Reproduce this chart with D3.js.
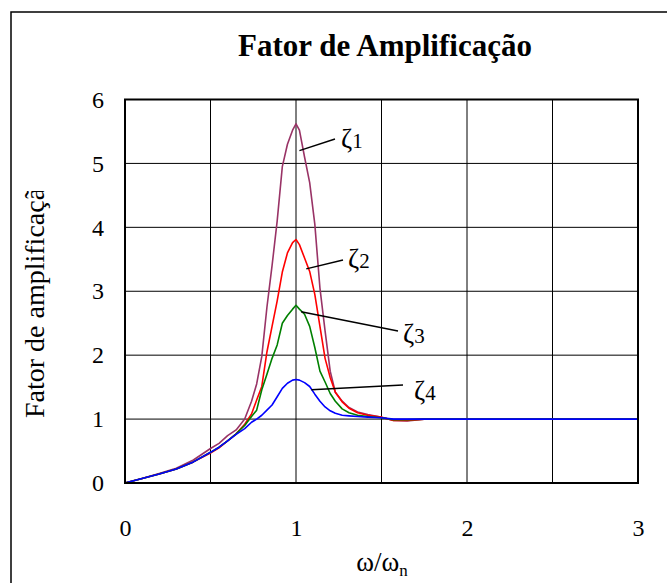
<!DOCTYPE html>
<html>
<head>
<meta charset="utf-8">
<script src="https://cdn.jsdelivr.net/npm/d3@7"></script>
<style>
  body { margin: 0; background: #fff; }
  svg { font-family: "Liberation Serif", "Times New Roman", serif; }
</style>
</head>
<body>
<svg id="chart" width="667" height="583"></svg>
<script>
// frequency ratio w/wn (shared by all series)
const ratio = [0, 0.1, 0.2, 0.3, 0.4, 0.5, 0.55, 0.6, 0.65, 0.7, 0.74, 0.77, 0.8, 0.83, 0.86, 0.89, 0.92, 0.95, 0.98, 1.0,
               1.02, 1.05, 1.08, 1.11, 1.14, 1.17, 1.2, 1.23, 1.27, 1.31, 1.36, 1.42, 1.5, 1.57, 1.65, 1.75, 2.0, 2.5, 3.0];

const zeta1 = [0, 0.07, 0.15, 0.23, 0.36, 0.54, 0.62, 0.74, 0.83, 1.0, 1.28, 1.55, 1.98, 2.75, 3.4, 4.1, 4.95, 5.3, 5.52, 5.62,
               5.52, 5.1, 4.7, 4.05, 3.05, 2.38, 1.75, 1.42, 1.28, 1.18, 1.11, 1.07, 1.03, 0.98, 0.97, 1.0, 1.0, 1.0, 1.0];
const zeta2 = [0, 0.07, 0.14, 0.22, 0.33, 0.47, 0.55, 0.66, 0.77, 0.92, 1.08, 1.3, 1.51, 2.05, 2.45, 2.85, 3.3, 3.6, 3.76, 3.81,
               3.73, 3.52, 3.31, 2.95, 2.45, 1.95, 1.65, 1.42, 1.27, 1.17, 1.1, 1.06, 1.03, 0.98, 0.98, 1.0, 1.0, 1.0, 1.0];
const zeta3 = [0, 0.07, 0.14, 0.22, 0.33, 0.48, 0.56, 0.66, 0.77, 0.9, 1.04, 1.14, 1.46, 1.7, 1.95, 2.16, 2.5, 2.62, 2.72, 2.78,
               2.72, 2.64, 2.45, 2.12, 1.75, 1.58, 1.4, 1.28, 1.16, 1.1, 1.06, 1.04, 1.02, 0.99, 0.99, 1.0, 1.0, 1.0, 1.0];
const zeta4 = [0, 0.07, 0.14, 0.22, 0.33, 0.48, 0.56, 0.66, 0.76, 0.85, 0.95, 1.0, 1.06, 1.14, 1.22, 1.35, 1.48, 1.56, 1.61, 1.62,
               1.61, 1.57, 1.51, 1.39, 1.28, 1.19, 1.13, 1.09, 1.06, 1.05, 1.04, 1.03, 1.02, 1.0, 1.0, 1.0, 1.0, 1.0, 1.0];

const xTicks = [0, 1, 2, 3];
const xGrid = [0.5, 1, 1.5, 2, 2.5];
const yTicks = [0, 1, 2, 3, 4, 5, 6];

const series = [
  { name: "1", values: zeta1, color: "#993366" },
  { name: "2", values: zeta2, color: "#ff0000" },
  { name: "3", values: zeta3, color: "#008000" },
  { name: "4", values: zeta4, color: "#0000ff" }
];

// label anchor: point on curve, end of leader line, text position
const labels = [
  { name: "1", from: [1.02, 5.2], to: [335, 139], text: [341, 148] },
  { name: "2", from: [1.06, 3.35], to: [343, 260], text: [348, 268] },
  { name: "3", from: [1.03, 2.68], to: [398, 331], text: [403, 343] },
  { name: "4", from: [1.09, 1.46], to: [403, 385], text: [414, 400] }
];

const svg = d3.select("#chart");
const margin = { left: 125, right: 29, top: 99.5, bottom: 100 };
const width = 667, height = 583;

// outer frame
svg.append("rect")
   .attr("x", 11).attr("y", 12)
   .attr("width", 700).attr("height", 600)
   .attr("fill", "none").attr("stroke", "#000").attr("stroke-width", 1.5);

const xScale = d3.scaleLinear().domain([0, 3]).range([margin.left, width - margin.right]);
const yScale = d3.scaleLinear().domain([0, 6]).range([height - margin.bottom, margin.top]);

// grid
svg.append("g")
   .selectAll("line")
   .data(xGrid)
   .enter().append("line")
      .attr("x1", d => xScale(d)).attr("x2", d => xScale(d))
      .attr("y1", yScale(0)).attr("y2", yScale(6))
      .attr("stroke", "#000").attr("stroke-width", 1);

svg.append("g")
   .selectAll("line")
   .data(yTicks.slice(1, -1))
   .enter().append("line")
      .attr("x1", xScale(0)).attr("x2", xScale(3))
      .attr("y1", d => yScale(d)).attr("y2", d => yScale(d))
      .attr("stroke", "#000").attr("stroke-width", 1);

// curves
const line = d3.line()
               .x((d, i) => xScale(ratio[i]))
               .y(d => yScale(d));

svg.append("g")
   .selectAll("path")
   .data(series)
   .enter().append("path")
      .attr("d", d => line(d.values))
      .attr("fill", "none")
      .attr("stroke", d => d.color)
      .attr("stroke-width", 1.6)
      .attr("stroke-linejoin", "round");

// plot border
svg.append("rect")
   .attr("x", xScale(0)).attr("y", yScale(6))
   .attr("width", xScale(3) - xScale(0))
   .attr("height", yScale(0) - yScale(6))
   .attr("fill", "none").attr("stroke", "#000").attr("stroke-width", 2);

// axes
const xAxis = d3.axisBottom(xScale).tickValues(xTicks).tickSize(0).tickPadding(36).tickFormat(d3.format("d"));
const yAxis = d3.axisLeft(yScale).tickValues(yTicks).tickSize(0).tickPadding(27).tickFormat(d3.format("d"));

const gx = svg.append("g")
              .attr("transform", `translate(0, ${yScale(0)})`)
              .call(xAxis);
gx.select(".domain").remove();
gx.selectAll("text").attr("font-size", 24).attr("font-family", "Liberation Serif").attr("fill", "#000");

const gy = svg.append("g")
              .attr("transform", `translate(${xScale(0)}, 0)`)
              .call(yAxis);
gy.select(".domain").remove();
gy.selectAll("text").attr("font-size", 24).attr("font-family", "Liberation Serif")
  .attr("text-anchor", "middle").attr("x", -27).attr("fill", "#000");

// title
svg.append("text")
   .attr("x", 385).attr("y", 56)
   .attr("text-anchor", "middle")
   .attr("font-size", 31).attr("font-weight", "bold")
   .text("Fator de Amplificação");

// x axis title
const xt = svg.append("text")
              .attr("x", 382).attr("y", 571)
              .attr("text-anchor", "middle")
              .attr("font-size", 27);
xt.append("tspan").text("ω/ω");
xt.append("tspan").attr("font-size", 17).attr("dy", 5).text("n");

// y axis title (clipped like the original)
svg.append("clipPath").attr("id", "yclip")
   .append("rect").attr("x", 0).attr("y", 191).attr("width", 80).attr("height", 400);

svg.append("g")
   .attr("clip-path", "url(#yclip)")
   .append("text")
      .attr("transform", "translate(44, 418) rotate(-90)")
      .attr("text-anchor", "start")
      .attr("font-size", 28)
      .text("Fator de amplificação");

// zeta labels with leader lines
const lg = svg.append("g");
lg.selectAll("line")
  .data(labels)
  .enter().append("line")
     .attr("x1", d => xScale(d.from[0])).attr("y1", d => yScale(d.from[1]))
     .attr("x2", d => d.to[0]).attr("y2", d => d.to[1])
     .attr("stroke", "#000").attr("stroke-width", 1.5);

const lt = lg.selectAll("text")
             .data(labels)
             .enter().append("text")
                .attr("x", d => d.text[0]).attr("y", d => d.text[1])
                .attr("font-size", 27);
lt.append("tspan").text("ζ");
lt.append("tspan").attr("font-size", 21).attr("dy", 0).text(d => d.name);
</script>
</body>
</html>
